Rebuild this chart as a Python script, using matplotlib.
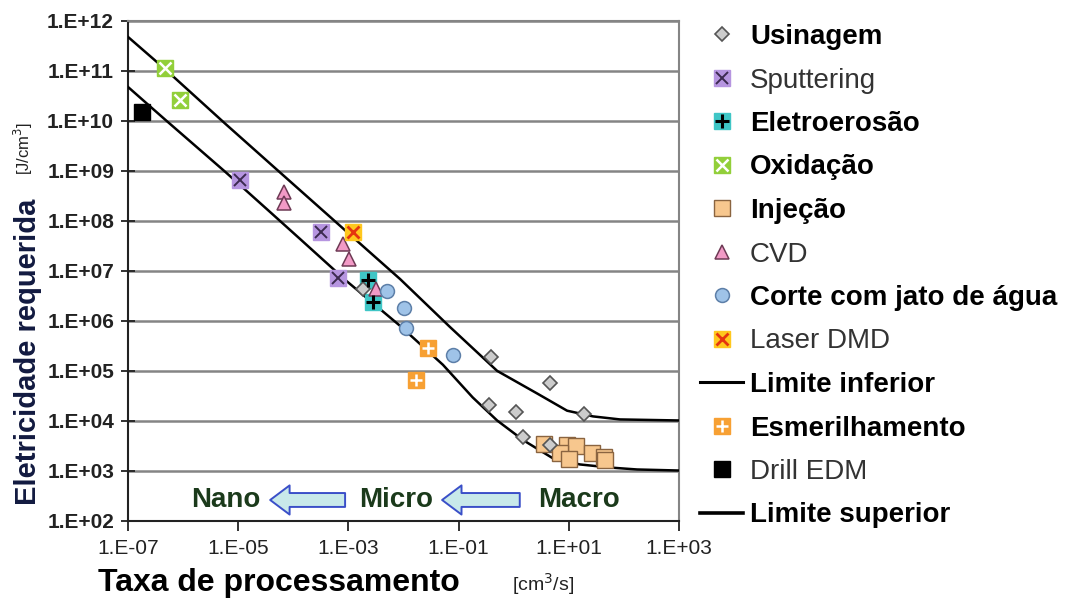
import math
import matplotlib
matplotlib.use("Agg")
import matplotlib.pyplot as plt
from matplotlib.lines import Line2D
from matplotlib.legend_handler import HandlerTuple
from matplotlib.patches import FancyArrowPatch
from matplotlib.ticker import FixedLocator, FuncFormatter, NullLocator

plt.rcParams['font.family'] = ['Liberation Sans', 'DejaVu Sans']

# ---------------- data ----------------
usinagem_x = [1.86e-3, 0.39, 4.5, 0.35, 1.12, 19.0, 1.45, 4.6]
usinagem_y = [4.4e6, 1.86e5, 5.75e4, 2.1e4, 1.5e4, 1.4e4, 4.8e3, 3.3e3]

sputtering_x = [1.07e-5, 3.16e-4, 6.6e-4]
sputtering_y = [6.5e8, 6.0e7, 7.1e6]

eletroerosao_x = [2.3e-3, 2.75e-3]
eletroerosao_y = [6.5e6, 2.4e6]

oxidacao_x = [4.7e-7, 8.7e-7]
oxidacao_y = [1.1e11, 2.6e10]

injecao_x = [3.5, 9.3, 13.5, 6.9, 10.2, 26.0, 43.0, 46.0]
injecao_y = [3.5e3, 3.3e3, 3.1e3, 2.3e3, 1.74e3, 2.3e3, 1.86e3, 1.66e3]

cvd_x = [6.8e-5, 6.8e-5, 7.9e-4, 1.02e-3, 3.2e-3]
cvd_y = [3.7e8, 2.3e8, 3.4e7, 1.74e7, 4.4e6]

corte_x = [5.1e-3, 1.02e-2, 1.12e-2, 7.9e-2]
corte_y = [4.0e6, 1.78e6, 7.2e5, 2.1e5]

laser_x = [1.23e-3]
laser_y = [6.0e7]

esmeril_x = [2.8e-2, 1.7e-2]
esmeril_y = [2.9e5, 6.5e4]

drill_x = [1.78e-7]
drill_y = [1.5e10]

upper_x = [1e-7, 4.7e-7, 5.8e-6, 4.7e-5, 3.8e-4, 2.2e-3, 8.7e-3, 6.9e-2,
           0.5, 2.7, 9.3, 27.5, 85.0, 1000.0]
upper_y = [4.7e11, 1.07e11, 8.7e9, 1.12e9, 1.45e8, 2.6e7, 6.8e6, 7.6e5,
           1.0e5, 3.5e4, 1.6e4, 1.23e4, 1.07e4, 1.02e4]

lower_x = [1e-7, 4.7e-7, 5.8e-6, 4.1e-5, 1.3e-4, 9.3e-4, 8.7e-3, 5.2e-2,
           0.18, 0.5, 1.5, 5.1, 15.8, 56.0, 174.0, 1000.0]
lower_y = [4.7e10, 1.05e10, 9.5e8, 1.38e8, 4.4e7, 6.2e6, 7.9e5, 1.32e5,
           2.95e4, 1.02e4, 4.1e3, 1.8e3, 1.35e3, 1.17e3, 1.07e3, 1.02e3]

x_ticks = [1e-7, 1e-5, 1e-3, 1e-1, 1e1, 1e3]
y_ticks = [1e2, 1e3, 1e4, 1e5, 1e6, 1e7, 1e8, 1e9, 1e10, 1e11, 1e12]

scale_labels = ["Nano", "Micro", "Macro"]

# ---------------- figure ----------------
W, H = 1071, 598
fig = plt.figure(figsize=(W / 100, H / 100), dpi=100)
ax = fig.add_axes([128 / W, 77 / H, 551 / W, 500.5 / H])
ax.set_xscale('log')
ax.set_yscale('log')
ax.set_xlim(1e-7, 1e3)
ax.set_ylim(1e2, 1e12)

ax.yaxis.grid(True, color='#858585', lw=1.8)
ax.set_axisbelow(True)
for s in ['top', 'right']:
    ax.spines[s].set_color('#858585')
    ax.spines[s].set_linewidth(1.5)
for s in ['left', 'bottom']:
    ax.spines[s].set_color('#222222')
    ax.spines[s].set_linewidth(1.5)

fmt = FuncFormatter(lambda v, p: "1.E{:+03d}".format(int(round(math.log10(v)))))
ax.xaxis.set_major_locator(FixedLocator(x_ticks))
ax.yaxis.set_major_locator(FixedLocator(y_ticks))
ax.xaxis.set_minor_locator(NullLocator())
ax.yaxis.set_minor_locator(NullLocator())
ax.xaxis.set_major_formatter(fmt)
ax.yaxis.set_major_formatter(fmt)
ax.tick_params(axis='x', direction='out', length=7, width=1.3, pad=6,
               labelsize=15, colors='#222222')
ax.tick_params(axis='y', direction='inout', length=10, width=1.3, pad=5,
               labelsize=15, colors='#222222')
for t in ax.get_yticklabels():
    t.set_fontweight('bold')

ms_sq = 11
# limit curves
ax.plot(upper_x, upper_y, color='black', lw=1.8, zorder=3)
ax.plot(lower_x, lower_y, color='black', lw=1.8, zorder=3)

# markers
ax.plot(injecao_x, injecao_y, 's', ms=ms_sq, mfc='#f7c78e', mec='#8a6440', mew=1.0, ls='none', zorder=4)
ax.plot(usinagem_x, usinagem_y, 'D', ms=7, mfc='#cccccc', mec='#555555', mew=1.2, ls='none', zorder=5)
ax.plot(sputtering_x, sputtering_y, 's', ms=ms_sq, mfc='#b695e0', mec='#b695e0', ls='none', zorder=4)
ax.plot(sputtering_x, sputtering_y, 'x', ms=9, mec='#3c2a50', mew=1.4, ls='none', zorder=5)
ax.plot(eletroerosao_x, eletroerosao_y, 's', ms=ms_sq, mfc='#3fc6c6', mec='#3fc6c6', ls='none', zorder=4)
ax.plot(eletroerosao_x, eletroerosao_y, '+', ms=10, mec='black', mew=2.2, ls='none', zorder=5)
ax.plot(oxidacao_x, oxidacao_y, 's', ms=ms_sq, mfc='#92cf3a', mec='#92cf3a', ls='none', zorder=4)
ax.plot(oxidacao_x, oxidacao_y, 'x', ms=9, mec='white', mew=1.8, ls='none', zorder=5)
ax.plot(cvd_x, cvd_y, '^', ms=9.5, mfc='#f29ac6', mec='#6e3a55', mew=1.1, ls='none', zorder=4)
ax.plot(corte_x, corte_y, 'o', ms=10, mfc='#9fc3e8', mec='#5d7fa8', mew=1.1, ls='none', zorder=4)
ax.plot(laser_x, laser_y, 's', ms=ms_sq, mfc='#ffc81e', mec='#ffc81e', ls='none', zorder=4)
ax.plot(laser_x, laser_y, 'x', ms=9, mec='#e5350f', mew=2.0, ls='none', zorder=5)
ax.plot(esmeril_x, esmeril_y, 's', ms=ms_sq, mfc='#f7a033', mec='#f7a033', ls='none', zorder=4)
ax.plot(esmeril_x, esmeril_y, '+', ms=9, mec='white', mew=1.8, ls='none', zorder=5)
ax.plot(drill_x, drill_y, 's', ms=ms_sq, mfc='black', mec='black', ls='none', zorder=4)

# scale annotations
green = '#1b3a1b'
for lbl, xf in zip(scale_labels, [0.178, 0.487, 0.818]):
    ax.text(xf, 0.042, lbl, transform=ax.transAxes, ha='center', va='center',
            fontsize=20, fontweight='bold', color=green)
for x0, x1 in [(0.394, 0.258), (0.711, 0.570)]:
    arr = FancyArrowPatch((x0, 0.042), (x1, 0.042), transform=ax.transAxes,
                          arrowstyle='simple,head_length=14,head_width=21,tail_width=10',
                          mutation_scale=1, fc='#c8e9ea', ec='#3a4fc8', lw=1.4,
                          shrinkA=0, shrinkB=0, zorder=6)
    ax.add_patch(arr)

# axis labels
fig.text(98 / W, 1 - 591 / H, "Taxa de processamento", fontsize=23, fontweight='bold',
         ha='left', va='baseline', color='black')
fig.text(512 / W, 1 - 584 / H, "[cm$^3$/s]", fontsize=14, ha='left', va='center', color='#222222')
fig.text(28 / W, 1 - 352 / H, "Eletricidade requerida", fontsize=21, fontweight='bold',
         rotation=90, ha='center', va='center', color='#121a40')
fig.text(23 / W, 1 - 148 / H, "[J/cm$^3$]", fontsize=12, rotation=90,
         ha='center', va='center', color='#222222')

# legend
def sq(fc, ec=None):
    return Line2D([], [], marker='s', ls='none', ms=ms_sq, mfc=fc, mec=ec or fc)

def ov(m, c, mew, ms=9):
    return Line2D([], [], marker=m, ls='none', ms=ms, mec=c, mew=mew)

handles = [
    Line2D([], [], marker='D', ls='none', ms=7, mfc='#cccccc', mec='#555555', mew=1.2),
    (sq('#b695e0'), ov('x', '#3c2a50', 1.4)),
    (sq('#3fc6c6'), ov('+', 'black', 2.2, 10)),
    (sq('#92cf3a'), ov('x', 'white', 1.8)),
    sq('#f7c78e', '#8a6440'),
    Line2D([], [], marker='^', ls='none', ms=9.5, mfc='#f29ac6', mec='#6e3a55', mew=1.1),
    Line2D([], [], marker='o', ls='none', ms=10, mfc='#9fc3e8', mec='#5d7fa8', mew=1.1),
    (sq('#ffc81e'), ov('x', '#e5350f', 2.0)),
    Line2D([], [], color='black', lw=2.2),
    (sq('#f7a033'), ov('+', 'white', 1.8)),
    sq('black'),
    Line2D([], [], color='black', lw=2.6),
]
labels = ["Usinagem", "Sputtering", "Eletroerosão", "Oxidação", "Injeção", "CVD",
          "Corte com jato de água", "Laser DMD", "Limite inferior", "Esmerilhamento",
          "Drill EDM", "Limite superior"]
bold = [True, False, True, True, True, False, True, False, True, True, False, True]

leg = fig.legend(handles, labels, loc='upper left', bbox_to_anchor=(700 / W, 1 - 24 / H),
                 frameon=False, fontsize=20, handlelength=1.55, handletextpad=0.25,
                 labelspacing=0.63, borderpad=0, borderaxespad=0,
                 handler_map={tuple: HandlerTuple(ndivide=1, pad=0)})
for t, b in zip(leg.get_texts(), bold):
    if b:
        t.set_fontweight('bold')
        t.set_color('black')
    else:
        t.set_color('#333333')

fig.savefig('out.png', dpi=100)
